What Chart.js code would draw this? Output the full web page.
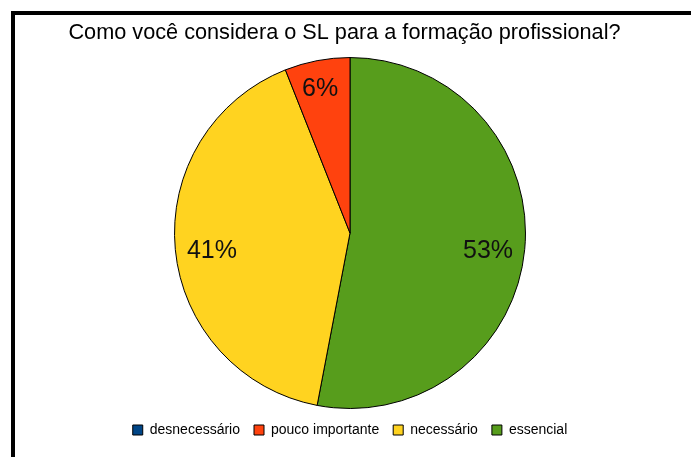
<!DOCTYPE html>
<html>
<head>
<meta charset="utf-8">
<title>Como você considera o SL para a formação profissional?</title>
<script src="https://cdn.jsdelivr.net/npm/chart.js@4/dist/chart.umd.min.js"></script>
<style>
    html, body { margin: 0; padding: 0; background: #fff; }
    #wrap { position: relative; width: 691px; height: 457px; overflow: hidden; }
    canvas { display: block; }
</style>
</head>
<body>
<div id="wrap"><canvas id="slChart" width="691" height="457"></canvas></div>
<script>
// data (drawn clockwise from the top, legend reversed to keep the original order)
const categories = ['essencial', 'necessário', 'pouco importante', 'desnecessário'];
const values = [53, 41, 6, 0];
const sliceColors = ['#579d1c', '#ffd320', '#ff420e', '#004586'];
const chartTitle = 'Como você considera o SL para a formação profissional?';

const FONT = "'Liberation Sans', Arial, sans-serif";
const TITLE_SIZE = 21.7;

// black frame on the left and top edges
const framePlugin = {
    id: 'frame',
    beforeDraw(chart) {
        const { ctx, width, height } = chart;
        ctx.save();
        ctx.fillStyle = '#fff';
        ctx.fillRect(0, 0, width, height);
        ctx.fillStyle = '#000';
        ctx.fillRect(11, 11, 4, height - 11);
        ctx.fillRect(11, 11, width - 11, 4);
        ctx.restore();
    }
};

// the built-in title only reserves space; the text is centred on the page, not on the pie
const pageTitle = {
    id: 'pageTitle',
    afterDraw(chart) {
        const { ctx, width } = chart;
        const tb = chart.titleBlock;
        ctx.save();
        ctx.font = TITLE_SIZE + 'px ' + FONT;
        ctx.fillStyle = '#000';
        ctx.textAlign = 'center';
        ctx.textBaseline = 'middle';
        ctx.fillText(chartTitle, width / 2 - 1, tb.top + 19 + TITLE_SIZE * 0.6 + 1);
        ctx.restore();
    }
};

// percentage labels inside the slices
const pctLabels = {
    id: 'pctLabels',
    afterDatasetsDraw(chart) {
        const { ctx } = chart;
        const ds = chart.data.datasets[0].data;
        const total = ds.reduce((a, b) => a + b, 0);
        ctx.save();
        ctx.font = '25px ' + FONT;
        ctx.fillStyle = '#111';
        ctx.textAlign = 'center';
        ctx.textBaseline = 'middle';
        chart.getDatasetMeta(0).data.forEach((arc, i) => {
            if (!ds[i]) return;
            const frac = ds[i] / total;
            const small = frac < 0.1;
            const mid = (arc.startAngle + arc.endAngle) / 2;
            const r = arc.outerRadius * (small ? 0.85 : 0.79);
            const x = arc.x + Math.cos(mid) * r;
            const y = arc.y + Math.sin(mid) * r;
            ctx.fillText(Math.round(frac * 100) + '%', x - (small ? 2 : 0), y + (small ? 3 : 5));
        });
        ctx.restore();
    }
};

new Chart(document.getElementById('slChart'), {
    type: 'pie',
    data: {
        labels: categories,
        datasets: [{
            data: values,
            backgroundColor: sliceColors,
            borderColor: '#000',
            borderWidth: 1
        }]
    },
    options: {
        responsive: false,
        animation: false,
        layout: { padding: { top: 0, bottom: 10, left: 9, right: 0 } },
        plugins: {
            title: {
                display: true,
                text: chartTitle,
                color: 'rgba(0,0,0,0)',
                font: { family: FONT, size: TITLE_SIZE, weight: 'normal', lineHeight: 1.2 },
                padding: { top: 19, bottom: 12 }
            },
            legend: {
                position: 'bottom',
                reverse: true,
                labels: {
                    color: '#000',
                    font: { family: FONT, size: 14 },
                    boxWidth: 10,
                    boxHeight: 10,
                    padding: 14
                }
            },
            tooltip: { enabled: false }
        }
    },
    plugins: [framePlugin, pctLabels, pageTitle]
});
</script>
</body>
</html>
